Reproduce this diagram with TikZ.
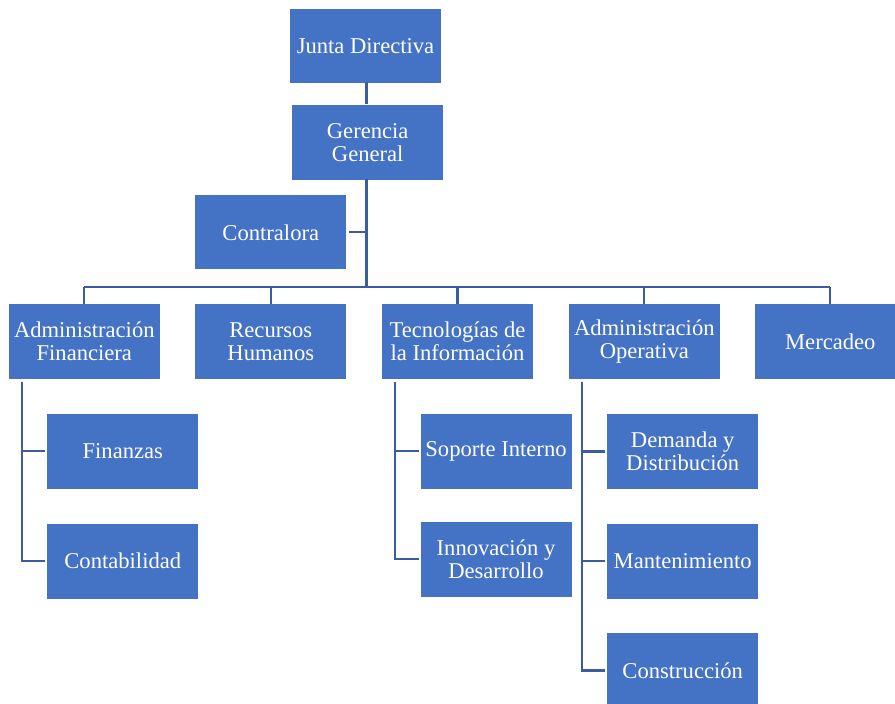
\documentclass[tikz,border=0pt]{standalone}
\usepackage{fontspec}
\setmainfont{Liberation Serif}
\definecolor{boxblue}{HTML}{4472C4}
\definecolor{linkblue}{RGB}{58,92,162}
\begin{document}
\begin{tikzpicture}[x=1pt,y=-1pt,
  unit/.style={rectangle, fill=boxblue, draw=white, line width=0.8pt,
    text=white, align=center, inner sep=0pt,
    minimum width=152pt, minimum height=76pt,
    font=\fontsize{22.6}{23}\selectfont},
  link/.style={draw=linkblue, line width=2.2pt},
  mainlink/.style={draw=linkblue, line width=3pt}]
\useasboundingbox (0,0) rectangle (895,704);

% top of the hierarchy
\node[unit, minimum height=75pt] (junta) at (365.5,46) {Junta Directiva};
\node[unit] (gerencia) at (367.7,142.3) {Gerencia\\General};
\node[unit, minimum height=75pt] (contralora) at (270.8,232.3) {Contralora};

% departments
\node[unit] (admfin) at (84.3,341.7) {Administración\\Financiera};
\node[unit] (rrhh) at (270.8,341.8) {Recursos\\Humanos};
\node[unit] (tec) at (457.5,341.5) {Tecnologías de\\la Información};
\node[unit] (admop) at (644.3,341.5) {Administración\\Operativa};
\node[unit] (merc) at (830.3,341.5) {Mercadeo};

% sub-units
\node[unit] (finanzas) at (122.8,451.3) {Finanzas};
\node[unit] (contab) at (122.8,561) {Contabilidad};
\node[unit] (soporte) at (496,451.3) {Soporte Interno};
\node[unit] (innov) at (496,559) {Innovación y\\Desarrollo};
\node[unit] (demanda) at (682.7,451.5) {Demanda y\\Distribución};
\node[unit] (manten) at (682.7,561) {Mantenimiento};
\node[unit] (constr) at (682.7,670.5) {Construcción};

% junction points of the connectors
\coordinate (bar) at (366.5,287.3);
\coordinate (afspine) at (22.3,381.5);
\coordinate (tispine) at (395,381.5);
\coordinate (opspine) at (582.3,381.5);

% main trunk
\draw[mainlink] ([yshift=2pt]junta.south -| bar) -- (gerencia.north -| bar);
\draw[mainlink] ([yshift=2pt]gerencia.south -| bar) -- (bar);
\draw[link] ([xshift=2pt]contralora.east) -- (contralora.east -| bar);

% horizontal bar and drops to the departments
\draw[link] (admfin.north |- bar) -- (merc.north |- bar);
\foreach \d in {admfin,rrhh,tec,admop,merc}
  \draw[link] (\d.north |- bar) -- ([yshift=-1pt]\d.north);

% sub-unit branches
\draw[link] (afspine) |- ([xshift=-1pt]finanzas.west);
\draw[link] (afspine) |- ([xshift=-1pt]contab.west);
\draw[link] (tispine) |- ([xshift=-1pt]soporte.west);
\draw[link] (tispine) |- ([xshift=-1pt]innov.west);
\draw[link] (opspine) |- ([xshift=-1pt]demanda.west);
\draw[link] (opspine) |- ([xshift=-1pt]manten.west);
\draw[link] (opspine) |- ([xshift=-1pt]constr.west);
\end{tikzpicture}
\end{document}
